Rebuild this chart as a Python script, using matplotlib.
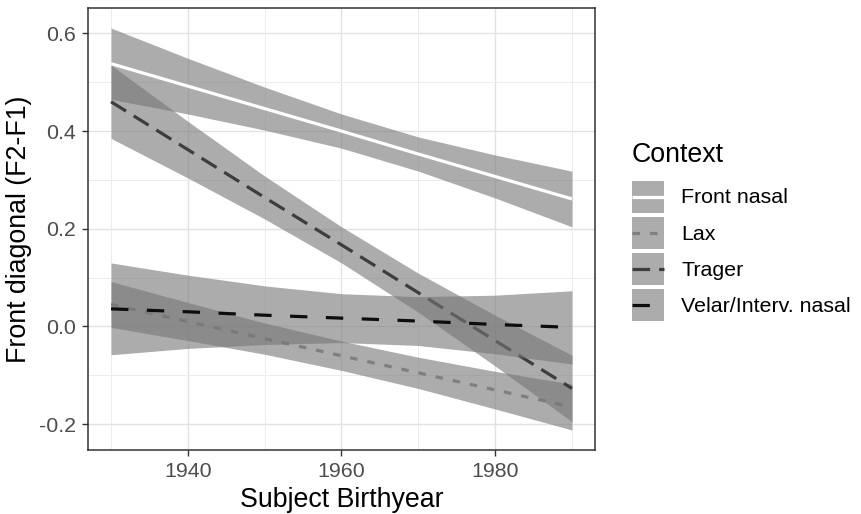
import matplotlib
matplotlib.use('Agg')
import matplotlib.pyplot as plt
from matplotlib.patches import Rectangle
from matplotlib.lines import Line2D

plt.rcParams['font.family'] = ['Liberation Sans', 'DejaVu Sans']
plt.rcParams['lines.scale_dashes'] = False

# ---------------- data ----------------
years = [1930, 1940, 1950, 1960, 1970, 1980, 1990]
contexts = ['Front nasal', 'Lax', 'Trager', 'Velar/Interv. nasal']

front_fit = [0.538, 0.492, 0.446, 0.400, 0.353, 0.307, 0.261]
front_hi = [0.611, 0.549, 0.490, 0.435, 0.388, 0.351, 0.318]
front_lo = [0.465, 0.435, 0.402, 0.365, 0.318, 0.263, 0.204]

lax_fit = [0.045, 0.010, -0.025, -0.060, -0.095, -0.130, -0.165]
lax_hi = [0.092, 0.049, 0.007, -0.030, -0.063, -0.092, -0.118]
lax_lo = [-0.002, -0.029, -0.057, -0.090, -0.127, -0.169, -0.212]

trager_fit = [0.460, 0.362, 0.264, 0.167, 0.069, -0.029, -0.127]
trager_hi = [0.535, 0.420, 0.308, 0.204, 0.109, 0.023, -0.059]
trager_lo = [0.385, 0.304, 0.220, 0.130, 0.029, -0.081, -0.195]

velar_fit = [0.036, 0.030, 0.023, 0.017, 0.011, 0.004, -0.002]
velar_hi = [0.130, 0.105, 0.083, 0.067, 0.061, 0.064, 0.073]
velar_lo = [-0.058, -0.045, -0.037, -0.033, -0.039, -0.056, -0.077]

x_ticks = [1940, 1960, 1980]
x_tick_labels = ['1940', '1960', '1980']
y_ticks = [-0.2, 0.0, 0.2, 0.4, 0.6]
y_tick_labels = ['-0.2', '0.0', '0.2', '0.4', '0.6']

# ---------------- styling ----------------
band_color = '#767676'
band_alpha = 0.6
line_w = 2.3
styles = {
    'Front nasal': dict(color='white', linestyle='-'),
    'Lax': dict(color='#7f7f7f', linestyle=(0, (5.4, 7.2))),
    'Trager': dict(color='#3d3d3d', linestyle=(0, (12.7, 6.5))),
    'Velar/Interv. nasal': dict(color='#0d0d0d', linestyle=(0, (12.5, 13.3))),
}
series = {
    'Front nasal': (front_fit, front_lo, front_hi),
    'Lax': (lax_fit, lax_lo, lax_hi),
    'Trager': (trager_fit, trager_lo, trager_hi),
    'Velar/Interv. nasal': (velar_fit, velar_lo, velar_hi),
}

W, H = 862, 514
fig = plt.figure(figsize=(W / 100, H / 100), dpi=100)
ax = fig.add_axes([88 / W, (H - 450) / H, (595 - 88) / W, (450 - 8) / H])

z = 2
for name in contexts:
    fit, lo, hi = series[name]
    ax.fill_between(years, lo, hi, color=band_color, alpha=band_alpha,
                    linewidth=0, zorder=z)
    ax.plot(years, fit, lw=line_w, zorder=z + 0.5, solid_capstyle='butt',
            dash_capstyle='butt', **styles[name])
    z += 1

ax.set_xlim(1927, 1993)
ax.set_ylim(-0.253, 0.652)
ax.set_xticks(x_ticks)
ax.set_xticklabels(x_tick_labels)
ax.set_yticks(y_ticks)
ax.set_yticklabels(y_tick_labels)
ax.set_xticks([1930, 1950, 1970, 1990], minor=True)
ax.set_yticks([-0.1, 0.1, 0.3, 0.5], minor=True)

ax.grid(which='major', color='#e2e2e2', lw=1.0, zorder=0)
ax.grid(which='minor', color='#ececec', lw=0.7, zorder=0)
ax.set_axisbelow(True)
ax.tick_params(which='major', length=4.3, width=1.0, color='#333333',
               labelsize=15.4, labelcolor='#4d4d4d', pad=4.5)
ax.tick_params(which='minor', length=0)
for s in ax.spines.values():
    s.set_color('#333333')
    s.set_linewidth(1.1)
    s.set_zorder(10)

ax.set_xlabel('Subject Birthyear', fontsize=19.3, labelpad=4)
ax.set_ylabel('Front diagonal (F2-F1)', fontsize=19.3, labelpad=5)


class KeyHandler:
    """Legend key: grey ribbon box with the series line centred on it."""
    def legend_artist(self, legend, orig_handle, fontsize, handlebox):
        x0, y0 = handlebox.xdescent, handlebox.ydescent
        w, h = handlebox.width, handlebox.height
        tr = handlebox.get_transform()
        rect = Rectangle((-x0, -y0), w, h, facecolor=band_color, alpha=band_alpha,
                         edgecolor='none', transform=tr)
        handlebox.add_artist(rect)
        yc = -y0 + h / 2
        ln = Line2D([-x0, -x0 + w], [yc, yc], lw=line_w,
                    dash_capstyle='butt', solid_capstyle='butt', transform=tr,
                    **styles[orig_handle.get_label()])
        handlebox.add_artist(ln)
        return rect


handles = [Line2D([], [], label=name) for name in contexts]
leg = fig.legend(handles, contexts, handler_map={Line2D: KeyHandler()},
                 loc='upper left', bbox_to_anchor=(632 / W, 1 - 142 / H),
                 frameon=False, fontsize=15.4, title='Context', title_fontsize=19.3,
                 alignment='left', handlelength=1.5, handleheight=1.93,
                 handletextpad=0.8, labelspacing=0.19, borderpad=0, borderaxespad=0)
leg._legend_box.sep = 9

fig.savefig('out.png', dpi=100)
